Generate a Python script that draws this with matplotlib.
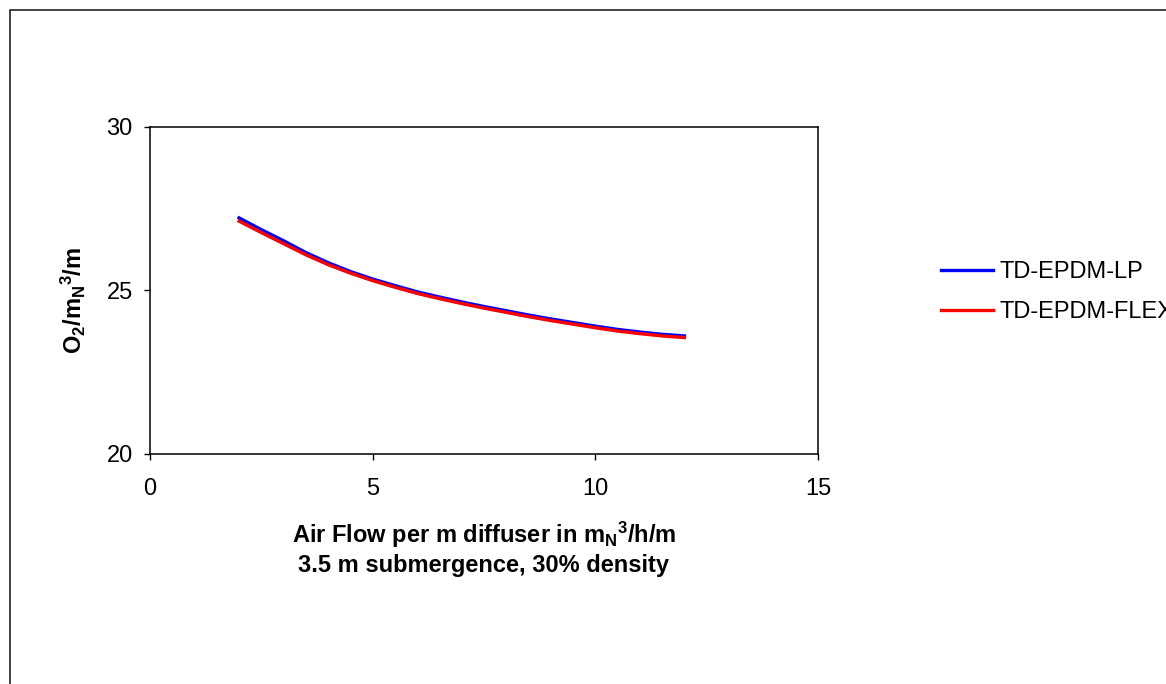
import matplotlib
matplotlib.use("Agg")
import matplotlib.pyplot as plt
from matplotlib.patches import Rectangle

plt.rcParams['font.family'] = ['Liberation Sans', 'DejaVu Sans']
plt.rcParams['mathtext.fontset'] = 'custom'
plt.rcParams['mathtext.rm'] = 'Liberation Sans'
plt.rcParams['mathtext.bf'] = 'Liberation Sans:bold'
plt.rcParams['mathtext.default'] = 'bf'

# data
air_flow = [2.0, 2.5, 3.0, 3.5, 4.0, 4.5, 5.0, 5.5, 6.0, 6.5, 7.0,
            7.5, 8.0, 8.5, 9.0, 9.5, 10.0, 10.5, 11.0, 11.5, 12.0]
o2_lp = [27.22, 26.86, 26.52, 26.16, 25.85, 25.58, 25.35, 25.15, 24.96, 24.80, 24.65,
         24.51, 24.38, 24.25, 24.13, 24.02, 23.91, 23.81, 23.73, 23.66, 23.61]
o2_flex = [27.12, 26.77, 26.43, 26.09, 25.79, 25.53, 25.30, 25.10, 24.91, 24.75, 24.60,
           24.46, 24.33, 24.20, 24.08, 23.97, 23.86, 23.76, 23.68, 23.61, 23.56]
series_names = ['TD-EPDM-LP', 'TD-EPDM-FLEX']
x_ticks = [0, 5, 10, 15]
y_ticks = [20, 25, 30]

fs = 17

fig = plt.figure(figsize=(11.66, 6.84), dpi=100)

# outer chart-area frame (runs off the right and bottom edges)
frame = Rectangle((10 / 1166, -0.1), 1.2, 1 - 10 / 684 + 0.1, transform=fig.transFigure,
                  fill=False, edgecolor='#222222', linewidth=1.2)
fig.patches.append(frame)

ax = fig.add_axes([150 / 1166, 1 - 454 / 684, 668 / 1166, 327 / 684])
ax.plot(air_flow, o2_lp, color='#0000ff', linewidth=2.4, label=series_names[0])
ax.plot(air_flow, o2_flex, color='#ff0000', linewidth=2.4, label=series_names[1])

ax.set_xlim(0, 15)
ax.set_ylim(20, 30)
ax.set_xticks(x_ticks)
ax.set_yticks(y_ticks)
ax.tick_params(direction='out', length=4.5, width=1, labelsize=fs)
ax.tick_params(axis='x', pad=13)
ax.tick_params(axis='y', pad=8)
for sp in ax.spines.values():
    sp.set_linewidth(1.1)
    sp.set_color('black')

ax.set_xlabel('Air Flow per m diffuser in m$_N$$^3$/h/m\n3.5 m submergence, 30% density',
              fontsize=fs, fontweight='bold', labelpad=14, linespacing=1.25)
ax.set_ylabel('O$_2$/m$_N$$^3$/m', fontsize=fs, fontweight='bold')
ax.yaxis.set_label_coords(-0.093, 0.47)

ax.legend(loc='center left', bbox_to_anchor=(920 / 1166, 1 - 292 / 684),
          bbox_transform=fig.transFigure, frameon=False, fontsize=fs,
          handlelength=2.2, handletextpad=0.25, labelspacing=0.75)

fig.savefig('out.png', dpi=100)
